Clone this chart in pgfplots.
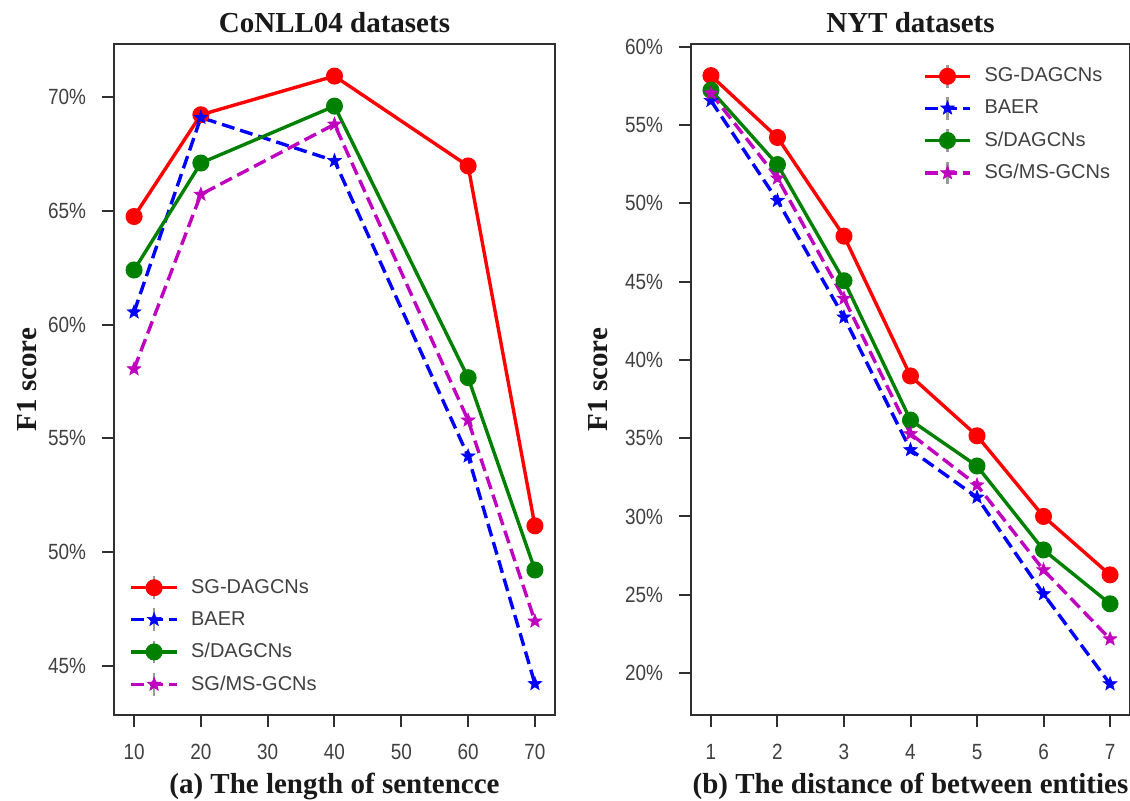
\documentclass[border=0pt]{standalone}
\usepackage{fontspec}
\setmainfont{Liberation Serif}
\setsansfont{Liberation Sans}
\newfontfamily\tickfont{Liberation Sans}[FakeStretch=0.86]
\usepackage{pgfplots}
\usepackage{pgfplotstable}
\pgfplotsset{compat=1.18}
\usetikzlibrary{plotmarks}

\definecolor{cred}{HTML}{FF0000}
\definecolor{cblue}{HTML}{0000FF}
\definecolor{cgreen}{HTML}{008000}
\definecolor{cmag}{HTML}{BF00BF}
\definecolor{frame}{HTML}{303030}
\definecolor{tick}{HTML}{404040}

% filled five-point star
\pgfdeclareplotmark{fstar}{%
  \pgfpathmoveto{\pgfpointpolar{90}{\pgfplotmarksize}}%
  \pgfpathlineto{\pgfpointpolar{126}{0.42\pgfplotmarksize}}%
  \pgfpathlineto{\pgfpointpolar{162}{\pgfplotmarksize}}%
  \pgfpathlineto{\pgfpointpolar{198}{0.42\pgfplotmarksize}}%
  \pgfpathlineto{\pgfpointpolar{234}{\pgfplotmarksize}}%
  \pgfpathlineto{\pgfpointpolar{270}{0.42\pgfplotmarksize}}%
  \pgfpathlineto{\pgfpointpolar{306}{\pgfplotmarksize}}%
  \pgfpathlineto{\pgfpointpolar{342}{0.42\pgfplotmarksize}}%
  \pgfpathlineto{\pgfpointpolar{18}{\pgfplotmarksize}}%
  \pgfpathlineto{\pgfpointpolar{54}{0.42\pgfplotmarksize}}%
  \pgfpathclose
  \pgfusepathqfillstroke
}

% CoNLL04: sentence length
\pgfplotstableread{
x   sg     baer   sdag   sgms
10  64.75  60.55  62.40  58.05
20  69.22  69.10  67.10  65.72
40  70.92  67.20  69.60  68.80
60  66.97  54.22  57.67  55.80
70  51.16  44.22  49.22  46.97
}\conll

% NYT: entity distance
\pgfplotstableread{
x  sg     baer   sdag   sgms
1  58.15  56.55  57.22  57.02
2  54.20  50.17  52.47  51.60
3  47.90  42.72  45.05  43.92
4  38.97  34.25  36.15  35.27
5  35.15  31.22  33.22  32.00
6  30.00  25.05  27.86  26.58
7  26.27  19.30  24.42  22.17
}\nyt

\pgfplotsset{
  every axis title shift=0pt,
  panel/.style={
    scale only axis, width=220.5pt, height=335.5pt,
    axis line style={draw=frame, line width=1pt},
    tick align=outside, tick pos=left,
    major tick length=6pt,
    tick style={draw=frame, line width=1pt},
    ticklabel style={font=\tickfont\fontsize{11}{12}\selectfont, text=tick},
    xticklabel style={yshift=-5pt},
    yticklabel style={xshift=-4.5pt},
    /pgf/number format/assume math mode=true,
    title style={font=\bfseries\fontsize{14.5}{16}\selectfont, text=black!90,
      at={(axis description cs:0.5,1.0164)}, anchor=base},
    label style={font=\bfseries\fontsize{14.5}{16}\selectfont, text=black!90},
    xlabel style={at={(axis description cs:0.5,-0.1163)}, anchor=base},
    ylabel={F1 score},
    legend cell align=left,
    legend style={draw=none, fill=none,
      font=\sffamily\fontsize{10}{12}\selectfont, text=tick,
      row sep=3.5pt},
    legend image code/.code={
      \draw[gray!80, line width=1.1pt, solid] (0.4cm,-0.2cm) -- (0.4cm,0.2cm);
      \draw[mark repeat=2, mark phase=2, ##1] plot coordinates {(0cm,0cm)(0.4cm,0cm)(0.8cm,0cm)};
      \path (0.95cm,0cm);
    },
  },
  sgline/.style={color=cred, solid, line width=1.7pt, mark=*, mark size=3.4pt},
  baerline/.style={color=cblue, line width=1.7pt, dash pattern=on 6.5pt off 3pt,
    mark=fstar, mark size=3.6pt, mark options={solid, line width=0.3pt}},
  sdagline/.style={color=cgreen, solid, line width=1.7pt, mark=*, mark size=3.4pt},
  sgmsline/.style={color=cmag, line width=1.7pt, dash pattern=on 6.5pt off 3pt,
    mark=fstar, mark size=3.6pt, mark options={solid, line width=0.3pt}},
}

\begin{document}
\begin{tikzpicture}
\begin{axis}[panel, at={(0pt,0pt)}, anchor=south west,
  title={CoNLL04 datasets},
  xlabel={(a) The length of sentencce},
  ylabel style={at={(axis description cs:-0.197,0.5)}, anchor=center},
  xmin=7, xmax=73, ymin=42.85, ymax=72.33,
  xtick={10,20,30,40,50,60,70},
  ytick={45,50,55,60,65,70},
  yticklabels={45\%,50\%,55\%,60\%,65\%,70\%},
  legend style={at={(0.021,0.02)}, anchor=south west},
]
\addplot[sgline] table[x=x, y=sg] {\conll};
\addplot[baerline] table[x=x, y=baer] {\conll};
\addplot[sdagline] table[x=x, y=sdag] {\conll};
\addplot[sgmsline] table[x=x, y=sgms] {\conll};
\legend{SG-DAGCNs, BAER, S/DAGCNs, SG/MS-GCNs}
\end{axis}

\begin{axis}[panel, at={(288.5pt,0pt)}, anchor=south west, width=219.5pt,
  title={NYT datasets},
  xlabel={(b) The distance of between entities},
  ylabel style={at={(axis description cs:-0.212,0.5)}, anchor=center},
  xmin=0.7, xmax=7.3, ymin=17.32, ymax=60.17,
  xtick={1,2,3,4,5,6,7},
  ytick={20,25,30,35,40,45,50,55,60},
  yticklabels={20\%,25\%,30\%,35\%,40\%,45\%,50\%,55\%,60\%},
  legend style={at={(0.514,0.977)}, anchor=north west},
]
\addplot[sgline] table[x=x, y=sg] {\nyt};
\addplot[baerline] table[x=x, y=baer] {\nyt};
\addplot[sdagline] table[x=x, y=sdag] {\nyt};
\addplot[sgmsline] table[x=x, y=sgms] {\nyt};
\legend{SG-DAGCNs, BAER, S/DAGCNs, SG/MS-GCNs}
\end{axis}
\pgfresetboundingbox
\useasboundingbox (-57pt,-43pt) rectangle (508pt,357.5pt);
\end{tikzpicture}
\end{document}
